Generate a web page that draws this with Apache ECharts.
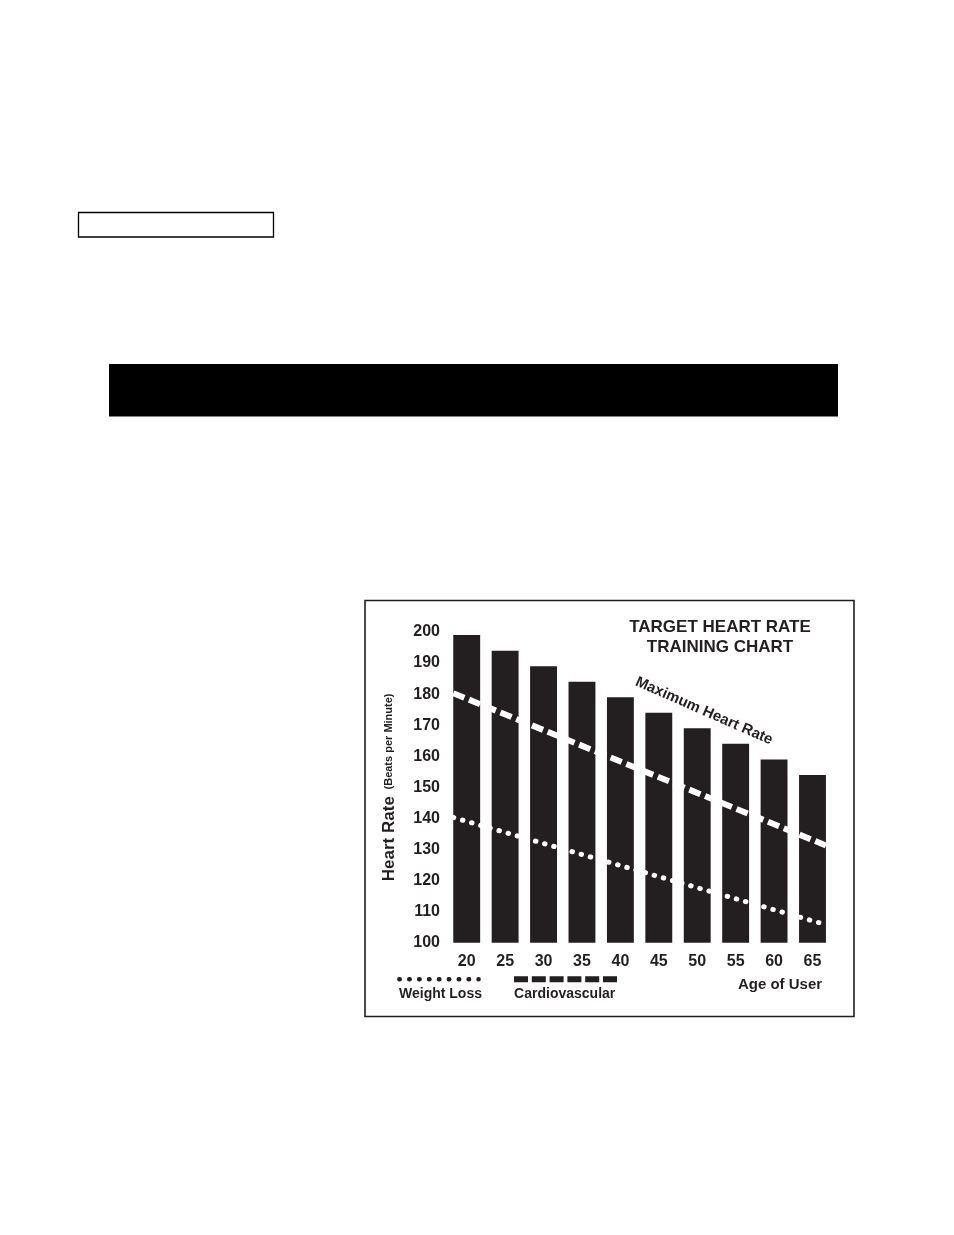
<!DOCTYPE html>
<html>
<head>
<meta charset="utf-8">
<title>Target Heart Rate Training Chart</title>
<script src="https://cdn.jsdelivr.net/npm/echarts@6/dist/echarts.min.js"></script>
<style>
  html, body { margin: 0; padding: 0; background: #fff; }
  #main { width: 954px; height: 1235px; }
</style>
</head>
<body>
<div id="main"></div>
<script>
// ages on the x axis and the bar heights (maximum heart rate)
var ages = ['20', '25', '30', '35', '40', '45', '50', '55', '60', '65'];
var maxHeartRate = [199, 194, 189, 184, 179, 174, 169, 164, 159, 154];

// the two target zones run straight from the left edge of the first bar
// to the right edge of the last one
var lineAges = [18.25, 66.75];
var cardioValues = [180.3, 131.3];
var weightLossValues = [140.3, 105.8];

var rateMin = 100, rateMax = 200, rateStep = 10;

var ink = '#231f20';
var font = 'Liberation Sans, Arial, sans-serif';

function pairs(xs, ys) {
    return xs.map(function (x, i) { return [x, ys[i]]; });
}

var myChart = echarts.init(document.getElementById('main'));

var option = {
    backgroundColor: '#fff',
    animation: false,
    textStyle: { fontFamily: font },
    grid: { left: 447.5, top: 632, width: 384.2, height: 310.7, containLabel: false },
    xAxis: [
        {
            type: 'category',
            data: ages,
            axisLine: { show: false },
            axisTick: { show: false },
            axisLabel: { color: ink, fontSize: 16, fontWeight: 'bold', margin: 11 }
        },
        {
            type: 'value',
            show: false,
            min: 17.5,
            max: 67.5
        }
    ],
    yAxis: {
        type: 'value',
        min: rateMin,
        max: rateMax,
        interval: rateStep,
        splitLine: { show: false },
        axisLine: { show: false },
        axisTick: { show: false },
        axisLabel: { color: ink, fontSize: 16, fontWeight: 'bold', margin: 7.5 },
        name: '{a|Heart Rate}  {b|(Beats per Minute)}',
        nameLocation: 'middle',
        nameRotate: 90,
        nameGap: 50,
        nameTextStyle: {
            rich: {
                a: { fontSize: 17, fontWeight: 'bold', color: ink, fontFamily: font },
                b: { fontSize: 11, fontWeight: 'bold', color: ink, fontFamily: font }
            }
        }
    },
    series: [
        {
            name: 'Maximum Heart Rate',
            type: 'bar',
            data: maxHeartRate,
            barCategoryGap: '30%',
            itemStyle: { color: ink },
            z: 2
        },
        {
            name: 'Cardiovascular',
            type: 'line',
            xAxisIndex: 1,
            data: pairs(lineAges, cardioValues),
            showSymbol: false,
            lineStyle: { color: '#fff', width: 6, type: [12, 5], cap: 'butt' },
            z: 4
        },
        {
            name: 'Weight Loss',
            type: 'line',
            xAxisIndex: 1,
            data: pairs(lineAges, weightLossValues),
            showSymbol: false,
            lineStyle: { color: '#fff', width: 5, type: [0.5, 9], cap: 'round' },
            z: 4
        }
    ],
    graphic: [
        // page furniture around the chart
        { type: 'rect', shape: { x: 78.5, y: 212.5, width: 195, height: 24.5 },
          style: { fill: 'none', stroke: '#000', lineWidth: 1.3 } },
        { type: 'rect', shape: { x: 109, y: 364, width: 729, height: 52.5 },
          style: { fill: '#000' } },
        // box round the chart
        { type: 'rect', shape: { x: 365, y: 600.5, width: 489, height: 416 },
          style: { fill: 'none', stroke: ink, lineWidth: 1.6 } },
        // title
        { type: 'text', x: 720, y: 617,
          style: { text: 'TARGET HEART RATE\nTRAINING CHART', textAlign: 'center', textVerticalAlign: 'top',
                   font: 'bold 17px ' + font, lineHeight: 20, fill: ink } },
        { type: 'text', x: 704, y: 711, rotation: -0.415,
          style: { text: 'Maximum Heart Rate', textAlign: 'center', textVerticalAlign: 'middle',
                   font: 'bold 15px ' + font, fill: ink } },
        // legend keys
        { type: 'line', shape: { x1: 399.3, y1: 979.3, x2: 478.6, y2: 979.3 },
          style: { stroke: ink, lineWidth: 4.5, lineDash: [0.5, 9.4], lineCap: 'round' } },
        { type: 'line', shape: { x1: 514, y1: 979.3, x2: 617, y2: 979.3 },
          style: { stroke: ink, lineWidth: 6, lineDash: [14, 3.8], lineCap: 'butt' } },
        { type: 'text', x: 440.5, y: 993.7,
          style: { text: 'Weight Loss', textAlign: 'center', textVerticalAlign: 'middle',
                   font: 'bold 14px ' + font, fill: ink } },
        { type: 'text', x: 564.7, y: 993.7,
          style: { text: 'Cardiovascular', textAlign: 'center', textVerticalAlign: 'middle',
                   font: 'bold 14px ' + font, fill: ink } },
        { type: 'text', x: 780, y: 985.3,
          style: { text: 'Age of User', textAlign: 'center', textVerticalAlign: 'middle',
                   font: 'bold 15px ' + font, fill: ink } }
    ]
};

myChart.setOption(option);
</script>
</body>
</html>
